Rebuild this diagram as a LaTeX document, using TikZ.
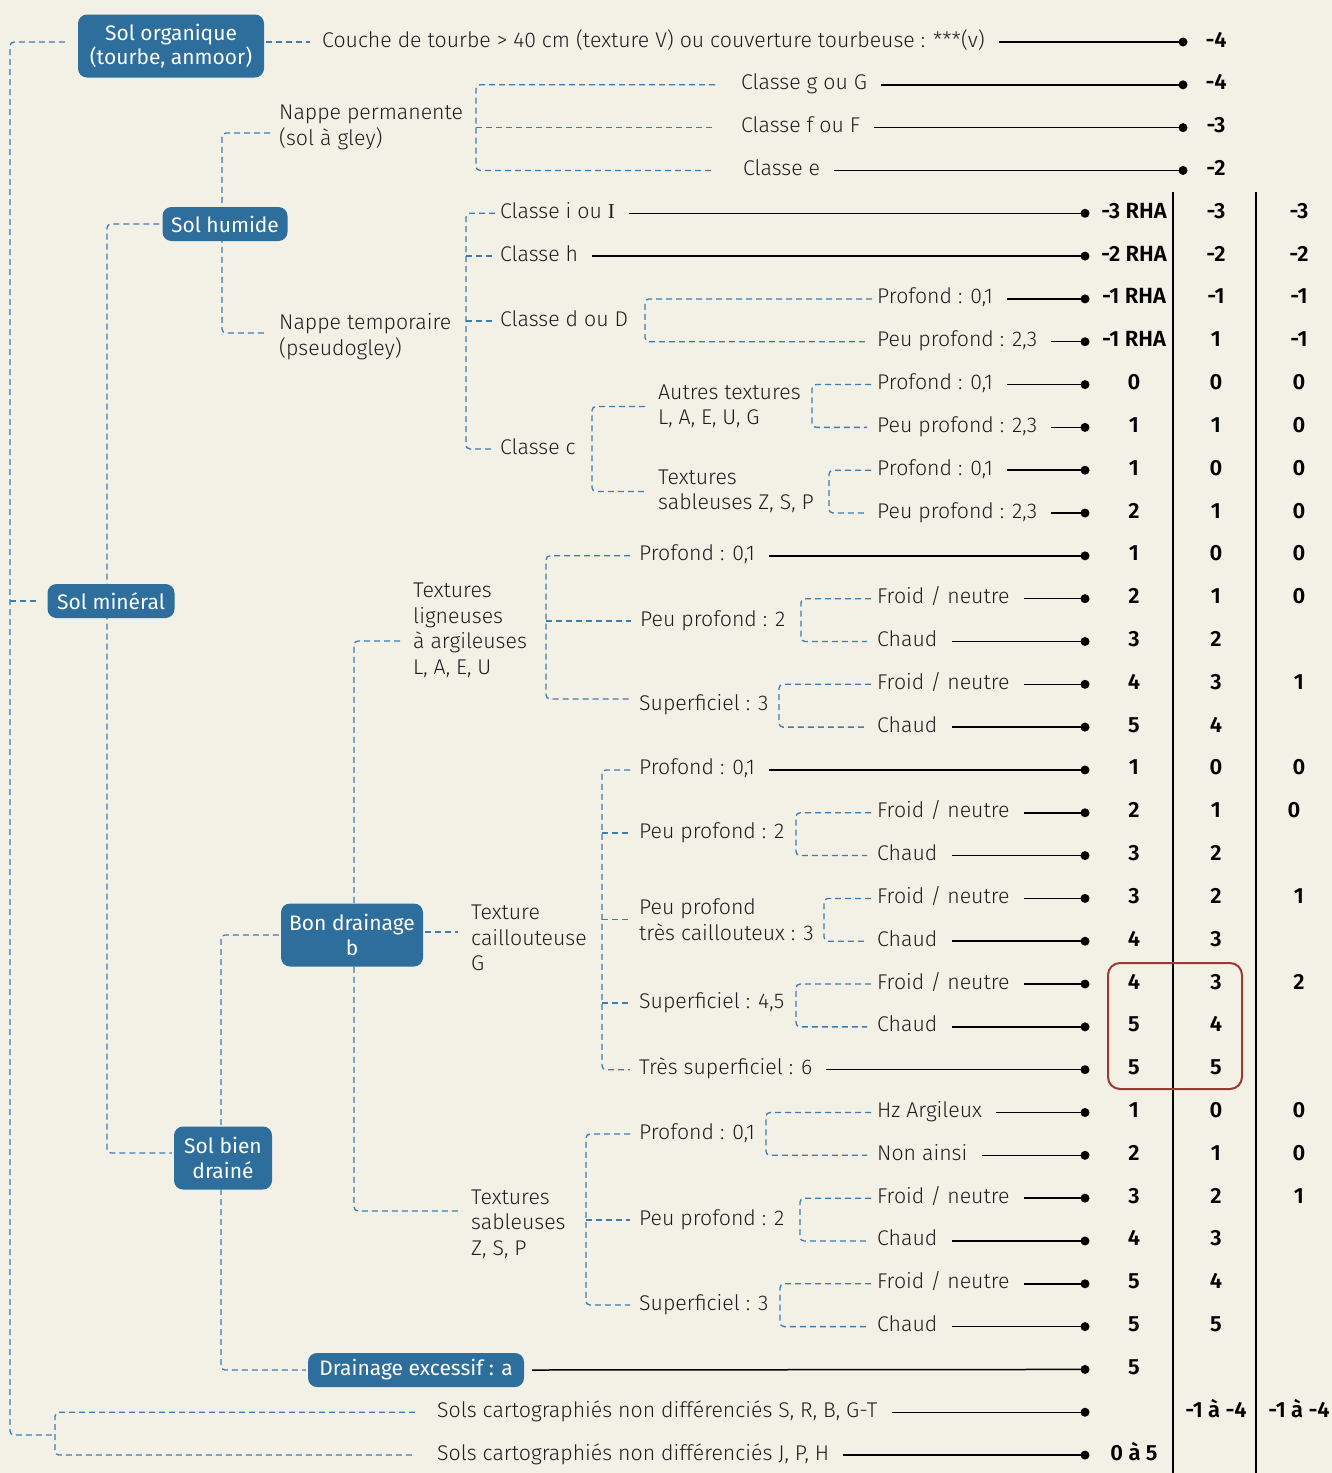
\documentclass[tikz,border=0pt]{standalone}
\usepackage{fontspec}
\setmainfont{Fira Sans}[UprightFont=* Light, BoldFont=* SemiBold]
\newfontfamily\boxfont{Fira Sans}
\newfontfamily\serifI{Liberation Serif}
\usetikzlibrary{calc}
\definecolor{bgc}{RGB}{243,240,230}
\definecolor{boxc}{RGB}{45,110,157}
\definecolor{dashc}{RGB}{60,125,180}
\definecolor{redc}{RGB}{155,58,50}
\definecolor{inkc}{RGB}{30,30,30}
\pgfdeclarelayer{bg}
\pgfsetlayers{bg,main}
\begin{document}
\begin{tikzpicture}[x=1pt,y=-1pt, font=\fontsize{21.3}{25.5}\selectfont,
  box/.style={fill=boxc, text=white, rounded corners=9pt, align=center, inner sep=0pt, font=\boxfont\fontsize{21}{24.5}\selectfont},
  leaf/.style={anchor=west, inner sep=0pt, text height=10pt, text depth=0pt, text=inkc},
  multi/.style={anchor=west, inner sep=0pt, align=left, text=inkc, font=\fontsize{21.3}{25.5}\selectfont},
  val/.style={inner sep=0pt, text height=10pt, text depth=0pt, font=\fontsize{22}{24}\selectfont\bfseries, text=black},
  dl/.style={draw=dashc, line width=1.3pt, dash pattern=on 6pt off 4pt, rounded corners=4pt},
  sl/.style={draw=black, line width=1.5pt},
  dot/.style={circle, fill=black, inner sep=0pt, minimum size=9pt},
]
\useasboundingbox (0,0) rectangle (1332,1473);
\newcommand\rl[1]{(42+42.82*(#1))}
% ---------- boxes
\node[box, minimum width=186pt, minimum height=63pt] (sorg) at (171,46) {Sol organique\\(tourbe, anmoor)};
\node[box, minimum width=125pt, minimum height=34pt] (shum) at (225,224) {Sol humide};
\node[box, minimum width=127pt, minimum height=34pt] (smin) at (111,601) {Sol minéral};
\node[box, minimum width=142pt, minimum height=63pt] (bond) at (352,935) {Bon drainage\\b};
\node[box, minimum width=98pt, minimum height=63pt] (sbd) at (223,1158) {Sol bien\\drainé};
\node[box, minimum width=216pt, minimum height=34pt] (dexc) at (416,1370) {Drainage excessif : a};
% ---------- bullets
\foreach \i in {0,...,3} \node[dot] (b\i) at (1183,{\rl{\i}}) {};
\foreach \i in {4,...,33} \node[dot] (b\i) at (1085,{\rl{\i}}) {};
% ---------- leaf texts
\node[leaf] (t0) at (322,{\rl{0}}) {Couche de tourbe > 40 cm (texture V) ou couverture tourbeuse : ***(v)};
\node[leaf] (t1) at (741,{\rl{1}}) {Classe g ou G};
\node[leaf] (t2) at (741,{\rl{2}}) {Classe f ou F};
\node[leaf] (t3) at (743,{\rl{3}}) {Classe e};
\node[leaf] (t4) at (500,{\rl{4}}) {Classe i ou {\serifI I}};
\node[leaf] (t5) at (500,{\rl{5}}) {Classe h};
\node[leaf] (t6) at (877,{\rl{6}}) {Profond : 0,1};
\node[leaf] (t7) at (877,{\rl{7}}) {Peu profond : 2,3};
\node[leaf] (t8) at (877,{\rl{8}}) {Profond : 0,1};
\node[leaf] (t9) at (877,{\rl{9}}) {Peu profond : 2,3};
\node[leaf] (t10) at (877,{\rl{10}}) {Profond : 0,1};
\node[leaf] (t11) at (877,{\rl{11}}) {Peu profond : 2,3};
\node[leaf] (t12) at (639,{\rl{12}}) {Profond : 0,1};
\node[leaf] (t13) at (877,{\rl{13}}) {Froid / neutre};
\node[leaf] (t14) at (877,{\rl{14}}) {Chaud};
\node[leaf] (t15) at (877,{\rl{15}}) {Froid / neutre};
\node[leaf] (t16) at (877,{\rl{16}}) {Chaud};
\node[leaf] (t17) at (639,{\rl{17}}) {Profond : 0,1};
\node[leaf] (t18) at (877,{\rl{18}}) {Froid / neutre};
\node[leaf] (t19) at (877,{\rl{19}}) {Chaud};
\node[leaf] (t20) at (877,{\rl{20}}) {Froid / neutre};
\node[leaf] (t21) at (877,{\rl{21}}) {Chaud};
\node[leaf] (t22) at (877,{\rl{22}}) {Froid / neutre};
\node[leaf] (t23) at (877,{\rl{23}}) {Chaud};
\node[leaf] (t24) at (639,{\rl{24}}) {Très superficiel : 6};
\node[leaf] (t25) at (877,{\rl{25}}) {Hz Argileux};
\node[leaf] (t26) at (877,{\rl{26}}) {Non ainsi};
\node[leaf] (t27) at (877,{\rl{27}}) {Froid / neutre};
\node[leaf] (t28) at (877,{\rl{28}}) {Chaud};
\node[leaf] (t29) at (877,{\rl{29}}) {Froid / neutre};
\node[leaf] (t30) at (877,{\rl{30}}) {Chaud};
\node[leaf] (t32) at (437,{\rl{32}}) {Sols cartographiés non différenciés S, R, B, G-T};
\node[leaf] (t33) at (437,{\rl{33}}) {Sols cartographiés non différenciés J, P, H};
% ---------- intermediate texts
\node[leaf] (cD) at (500,321) {Classe d ou D};
\node[leaf] (cC) at (500,449) {Classe c};
\node[leaf] (pp2a) at (640,621) {Peu profond : 2};
\node[leaf] (sup3a) at (639,705) {Superficiel : 3};
\node[leaf] (pp2b) at (639,833) {Peu profond : 2};
\node[leaf] (sup45) at (639,1003) {Superficiel : 4,5};
\node[leaf] (prof01c) at (639,1134) {Profond : 0,1};
\node[leaf] (pp2c) at (639,1220) {Peu profond : 2};
\node[leaf] (sup3c) at (639,1305) {Superficiel : 3};
\node[multi] (nperm) at (279,127.5) {Nappe permanente\\(sol à gley)};
\node[multi] (ntemp) at (279,336.5) {Nappe temporaire\\(pseudogley)};
\node[multi] (autres) at (658,406.5) {Autres textures\\L, A, E, U, G};
\node[multi] (tsab1) at (658,491.5) {Textures\\sableuses Z, S, P};
\node[multi] (tlig) at (413,630.5) {Textures\\ligneuses\\à argileuses\\L, A, E, U};
\node[multi] (tcail) at (471,938) {Texture\\caillouteuse\\G};
\node[multi] (ppc3) at (639,919.5) {Peu profond\\très caillouteux : 3};
\node[multi] (tsab2) at (471,1224) {Textures\\sableuses\\Z, S, P};
% ---------- values
\foreach \i/\v in {4/-3 RHA,5/-2 RHA,6/-1 RHA,7/-1 RHA,8/0,9/1,10/1,11/2,12/1,13/2,14/3,15/4,16/5,17/1,18/2,19/3,20/3,21/4,22/4,23/5,24/5,25/1,26/2,27/3,28/4,29/5,30/5,31/5,33/0 à 5}
  \node[val] (ca\i) at (1134,{\rl{\i}}) {\v};
\foreach \i/\v in {0/-4,1/-4,2/-3,3/-2,4/-3,5/-2,6/-1,7/1,8/0,9/1,10/0,11/1,12/0,13/1,14/2,15/3,16/4,17/0,18/1,19/2,20/2,21/3,22/3,23/4,24/5,25/0,26/1,27/2,28/3,29/4,30/5,32/-1 à -4}
  \node[val] (cb\i) at (1216,{\rl{\i}}) {\v};
\foreach \i/\v in {4/-3,5/-2,6/-1,7/-1,8/0,9/0,10/0,11/0,12/0,13/0,15/1,17/0,20/1,22/2,25/0,26/0,27/1,32/-1 à -4}
  \node[val] (cc\i) at (1299,{\rl{\i}}) {\v};
\node[val] (cc18) at (1294,{\rl{18}}) {0};
% ---------- table rules and highlight
\draw[sl] (1173,192) -- (1173,1473);
\draw[sl] (1256,192) -- (1256,1473);
\draw[draw=redc, line width=2pt, rounded corners=12pt] (1108,963) rectangle (1242,1089);
% ---------- solid leaders
\foreach \i in {0,...,30,32,33} \draw[sl] ([xshift=14pt]t\i.east) -- (b\i.center);
\draw[sl] ([xshift=8pt]dexc.east) -- (b31.center);
% ---------- dashed tree
\begin{pgfonlayer}{bg}
\fill[bgc] (0,0) rectangle (1332,1473);
\coordinate (r0) at (10,42);
\coordinate (rB) at (10,1435);
\coordinate (rS) at (55,1435);
\coordinate (rM) at (10,601);
\draw[dl] ([xshift=-13pt]sorg.west |- r0) -- (r0) -- (rB) -- (rS);
\draw[dl] (rM) -- ([xshift=-8pt]smin.west |- rM);
\draw[dl] ([xshift=-22pt]t32.west) -- (t32.west -| rS) -- (t33.west -| rS) -- ([xshift=-22pt]t33.west);
\draw[dl] ([xshift=2pt]sorg.east |- t0.west) -- ([xshift=-12pt]t0.west);
% sol mineral
\coordinate (mT) at (107,224);
\coordinate (mB) at (107,1153);
\draw[dl] ([xshift=-3pt]shum.west) -- (mT) -- (mB) -- ([xshift=-2pt]sbd.west |- mB);
% sol humide
\coordinate (hT) at (222,133);
\coordinate (hB) at (222,333);
\draw[dl] ([xshift=-9pt]nperm.west |- hT) -- (hT) -- (hB) -- ([xshift=-14pt]ntemp.west |- hB);
% nappe permanente
\coordinate (xP) at (476,0);
\draw[dl] ([xshift=-26pt]t1.west) -- (t1.west -| xP) -- (t3.west -| xP) -- ([xshift=-28pt]t3.west);
\draw[dl] (t2.west -| xP) -- ([xshift=-26pt]t2.west);
% nappe temporaire
\coordinate (xT) at (466,0);
\draw[dl] ([xshift=-5pt]t4.west) -- (t4.west -| xT) -- (cC.west -| xT) -- ([xshift=-5pt]cC.west);
\draw[dl] (t5.west -| xT) -- ([xshift=-5pt]t5.west);
\draw[dl] (cD.west -| xT) -- ([xshift=-5pt]cD.west);
% classe d
\coordinate (xD) at (645,0);
\draw[dl] ([xshift=-5pt]t6.west) -- (t6.west -| xD) -- (t7.west -| xD) -- ([xshift=-10pt]t7.west);
% classe c
\coordinate (xC) at (592,0);
\draw[dl] ([xshift=-13pt]autres.west) -- (autres.west -| xC) -- (tsab1.west -| xC) -- ([xshift=-13pt]tsab1.west);
\coordinate (xA) at (812,0);
\draw[dl] ([xshift=-6pt]t8.west) -- (t8.west -| xA) -- (t9.west -| xA) -- ([xshift=-10pt]t9.west);
\coordinate (xS1) at (829,0);
\draw[dl] ([xshift=-6pt]t10.west) -- (t10.west -| xS1) -- (t11.west -| xS1) -- ([xshift=-10pt]t11.west);
% sol bien draine
\coordinate (xB) at (221,0);
\draw[dl] ([xshift=-2pt]bond.west) -- (bond.west -| xB) -- (dexc.west -| xB) -- ([xshift=-2pt]dexc.west);
% bon drainage
\coordinate (kL) at (354,641);
\coordinate (kS) at (354,1211);
\draw[dl] ([xshift=-13pt]tlig.west |- kL) -- (kL) -- (kS) -- ([xshift=-9pt]tsab2.west |- kS);
\coordinate (kBC) at (0,932);
\draw[dl] ([xshift=2pt]bond.east |- kBC) -- ([xshift=-13pt]tcail.west |- kBC);
% textures ligneuses
\coordinate (xLg) at (546,0);
\coordinate (kSa) at (546,699);
\draw[dl] ([xshift=-9pt]t12.west) -- (t12.west -| xLg) -- (kSa) -- ([xshift=-9pt]sup3a.west |- kSa);
\draw[dl] (pp2a.west -| xLg) -- ([xshift=-9pt]pp2a.west);
\coordinate (xPa) at (801,0);
\draw[dl] ([xshift=-6pt]t13.west) -- (t13.west -| xPa) -- (t14.west -| xPa) -- ([xshift=-10pt]t14.west);
\coordinate (xSa) at (779,0);
\draw[dl] ([xshift=-6pt]t15.west) -- (t15.west -| xSa) -- (t16.west -| xSa) -- ([xshift=-10pt]t16.west);
% texture caillouteuse
\coordinate (xTc) at (602,0);
\draw[dl] ([xshift=-9pt]t17.west) -- (t17.west -| xTc) -- (t24.west -| xTc) -- ([xshift=-9pt]t24.west);
\draw[dl] (pp2b.west -| xTc) -- ([xshift=-9pt]pp2b.west);
\draw[dl] (ppc3.west -| xTc) -- ([xshift=-9pt]ppc3.west);
\draw[dl] (sup45.west -| xTc) -- ([xshift=-9pt]sup45.west);
\coordinate (xPb) at (796,0);
\draw[dl] ([xshift=-6pt]t18.west) -- (t18.west -| xPb) -- (t19.west -| xPb) -- ([xshift=-10pt]t19.west);
\coordinate (xPc) at (824,0);
\draw[dl] ([xshift=-6pt]t20.west) -- (t20.west -| xPc) -- (t21.west -| xPc) -- ([xshift=-10pt]t21.west);
\coordinate (xSb) at (796,0);
\draw[dl] ([xshift=-6pt]t22.west) -- (t22.west -| xSb) -- (t23.west -| xSb) -- ([xshift=-10pt]t23.west);
% textures sableuses (bien draine)
\coordinate (xTs) at (586,0);
\draw[dl] ([xshift=-9pt]prof01c.west) -- (prof01c.west -| xTs) -- (sup3c.west -| xTs) -- ([xshift=-9pt]sup3c.west);
\draw[dl] (pp2c.west -| xTs) -- ([xshift=-9pt]pp2c.west);
\coordinate (xPd) at (766,0);
\draw[dl] ([xshift=-6pt]t25.west) -- (t25.west -| xPd) -- (t26.west -| xPd) -- ([xshift=-10pt]t26.west);
\coordinate (xPe) at (800,0);
\draw[dl] ([xshift=-6pt]t27.west) -- (t27.west -| xPe) -- (t28.west -| xPe) -- ([xshift=-10pt]t28.west);
\coordinate (xSc) at (780,0);
\draw[dl] ([xshift=-6pt]t29.west) -- (t29.west -| xSc) -- (t30.west -| xSc) -- ([xshift=-10pt]t30.west);
\end{pgfonlayer}
\end{tikzpicture}
\end{document}
